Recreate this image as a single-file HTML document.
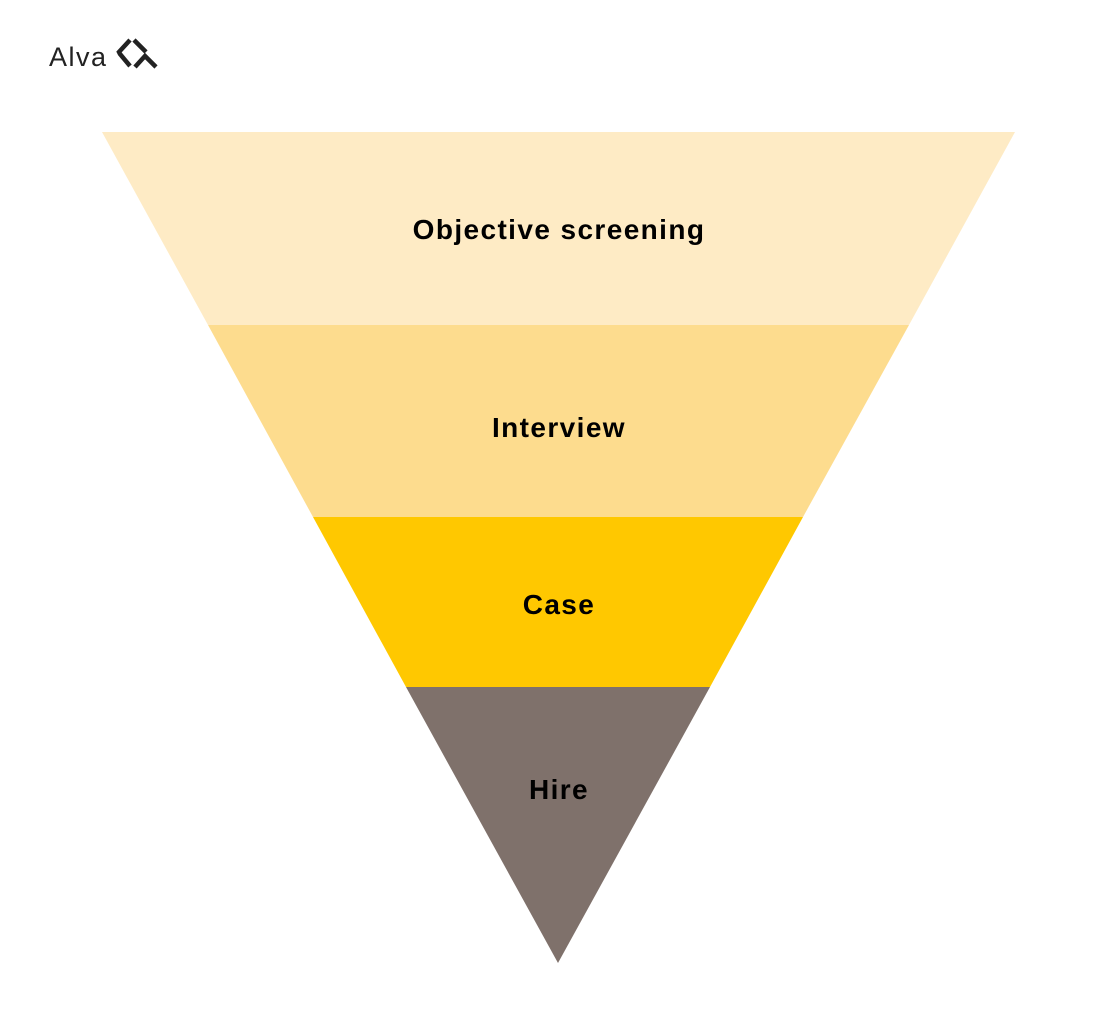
<!DOCTYPE html>
<html><head><style>
html,body{margin:0;padding:0;background:#fff;}
body{width:1118px;height:1024px;overflow:hidden;}
</style></head><body>
<svg width="1118" height="1024" viewBox="0 0 1118 1024" xmlns="http://www.w3.org/2000/svg">
<text x="49" y="66" font-family="Liberation Sans, sans-serif" font-size="27" letter-spacing="1.5" fill="#222">Alva</text>
<g fill="none" stroke="#222" stroke-width="4.5" stroke-linecap="butt">
<polyline points="130,40 119,52 120,54 130,66"/>
<line x1="134" y1="40" x2="146" y2="52"/>
<polyline points="135,67 145,56 156,67"/>
</g>
<polygon points="102,132 1015,132 909,325 208,325" fill="#FEEBC5"/>
<polygon points="208,325 909,325 803,517 313,517" fill="#FDDC8E"/>
<polygon points="313,517 803,517 710,687 406,687" fill="#FFC800"/>
<polygon points="406,687 710,687 558,963" fill="#7F716B"/>
<g font-family="Liberation Sans, sans-serif" font-weight="bold" font-size="28" letter-spacing="1.4" fill="#000" text-anchor="middle">
<text x="559" y="239">Objective screening</text>
<text x="559" y="437">Interview</text>
<text x="559" y="614">Case</text>
<text x="559" y="799">Hire</text>
</g>
</svg>
</body></html>
